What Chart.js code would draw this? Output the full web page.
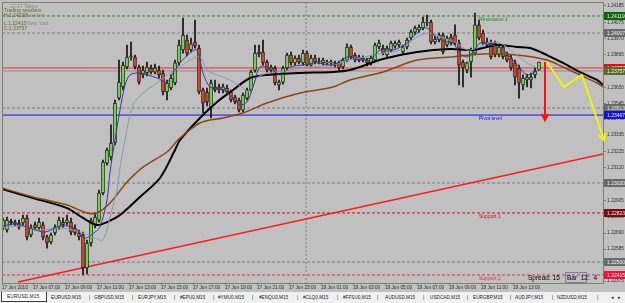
<!DOCTYPE html>
<html>
<head>
<meta charset="utf-8">
<script src="https://cdn.jsdelivr.net/npm/chart.js@4.4.0/dist/chart.umd.min.js"></script>
<style>
html, body { margin: 0; padding: 0; background: #c0c0c0; width: 625px; height: 303px; overflow: hidden; }
#wrap { position: relative; width: 625px; height: 303px; }
#c { position: absolute; left: 0; top: 0; }
#tabs { position: absolute; left: 0; top: 292px; width: 625px; height: 11px; background: #f0f0f0;
        font: 4.7px "Liberation Sans", Arial, sans-serif; color: #202020; }
#tabs span { position: absolute; top: 3px; white-space: nowrap; }
#tabs .act { top: 0; height: 9px; line-height: 9px; background: #fff; border: 1px solid #404040; border-top: none;
             padding-left: 5px; font-size: 5px; }
</style>
</head>
<body>
<div id="wrap">
<canvas id="c" width="625" height="292"></canvas>
<div id="tabs">
  <span class="act" style="left:1px;width:39px">EURUSD,M15</span>
  <span style="left:51px">EURUSD,M15</span><span style="left:89px">|</span>
  <span style="left:94px">GBPUSD,M15</span><span style="left:132px">|</span>
  <span style="left:138px">EURJPY,M15</span><span style="left:174px">|</span>
  <span style="left:180px">#EPU0,M15</span><span style="left:213px">|</span>
  <span style="left:218px">#YMU0,M15</span><span style="left:252px">|</span>
  <span style="left:259px">#ENQU0,M15</span><span style="left:297px">|</span>
  <span style="left:303px">#CLQ0,M15</span><span style="left:337px">|</span>
  <span style="left:343px">#FFSU0,M15</span><span style="left:377px">|</span>
  <span style="left:385px">AUDUSD,M15</span><span style="left:423px">|</span>
  <span style="left:430px">USDCAD,M15</span><span style="left:467px">|</span>
  <span style="left:473px">EURGBP,M15</span><span style="left:510px">|</span>
  <span style="left:515px">AUDJPY,M15</span><span style="left:552px">|</span>
  <span style="left:557px">NZDUSD,M15</span><span style="left:597px">|</span>
  <span style="left:611px">&#9666;</span><span style="left:618px">&#9656;</span>
</div>
</div>
<script>
// EURUSD M15, one entry per bar (bar 0 = 17 Jun 2010 05:15)
const opens = [
1.22724,1.22711,1.22770,1.22763,1.22757,1.22757,1.22790,1.22678,1.22744,1.22724,
1.22744,1.22665,1.22632,1.22691,1.22730,1.22763,1.22757,1.22763,1.22724,1.22691,
1.22678,1.22461,1.22625,1.22744,1.22776,1.22954,1.23151,1.23191,1.23283,1.23579,
1.23652,1.23783,1.23856,1.23849,1.23783,1.23731,1.23744,1.23777,1.23750,1.23763,
1.23744,1.23619,1.23645,1.23678,1.23810,1.23895,1.23961,1.23895,1.23948,1.23908,
1.23632,1.23619,1.23520,1.23652,1.23652,1.23632,1.23645,1.23619,1.23586,1.23566,
1.23500,1.23579,1.23632,1.23763,1.23882,1.23882,1.23816,1.23763,1.23777,1.23665,
1.23684,1.23777,1.23862,1.23810,1.23842,1.23810,1.23875,1.23796,1.23842,1.23823,
1.23810,1.23810,1.23810,1.23810,1.23810,1.23783,1.23829,1.23915,1.23862,1.23849,
1.23829,1.23829,1.23810,1.23829,1.23915,1.23908,1.23862,1.23895,1.23921,1.23928,
1.23882,1.23915,1.23974,1.24013,1.24027,1.24040,1.24073,1.24079,1.23948,1.23961,
1.23994,1.23928,1.23981,1.23994,1.23941,1.23816,1.23763,1.23816,1.23875,1.24060,
1.24007,1.23928,1.23941,1.23941,1.23862,1.23915,1.23862,1.23842,1.23810,1.23777,
1.23665,1.23698,1.23698,1.23731,1.23763];
const highs = [
1.22790,1.22796,1.22783,1.22776,1.22776,1.22809,1.22809,1.22744,1.22763,1.22790,
1.22763,1.22678,1.22691,1.22744,1.22796,1.22790,1.22809,1.22790,1.22744,1.22711,
1.22697,1.22645,1.22790,1.22823,1.22974,1.23171,1.23250,1.23402,1.23566,1.23829,
1.23816,1.23928,1.23948,1.23862,1.23796,1.23790,1.23816,1.23796,1.23803,1.23790,
1.23763,1.23698,1.23731,1.23829,1.23961,1.24106,1.23994,1.23974,1.24092,1.23928,
1.23645,1.23645,1.23698,1.23698,1.23671,1.23671,1.23665,1.23632,1.23599,1.23579,
1.23612,1.23645,1.23763,1.23928,1.23928,1.23961,1.23829,1.23796,1.23790,1.23698,
1.23790,1.23875,1.23882,1.23856,1.23862,1.23895,1.23888,1.23862,1.23862,1.23842,
1.23842,1.23829,1.23829,1.23823,1.23823,1.23842,1.23935,1.23928,1.23875,1.23862,
1.23856,1.23842,1.23856,1.23941,1.23961,1.23928,1.23921,1.23954,1.23954,1.23961,
1.23928,1.23974,1.24027,1.24053,1.24060,1.24112,1.24125,1.24092,1.23987,1.24007,
1.24007,1.23987,1.24000,1.24060,1.23961,1.23829,1.23816,1.23908,1.24138,1.24092,
1.24027,1.23974,1.23961,1.23954,1.23935,1.23928,1.23882,1.23862,1.23829,1.23796,
1.23731,1.23737,1.23744,1.23777,1.23816];
const lows = [
1.22711,1.22697,1.22744,1.22737,1.22717,1.22744,1.22645,1.22665,1.22711,1.22711,
1.22645,1.22592,1.22619,1.22678,1.22717,1.22730,1.22744,1.22678,1.22678,1.22645,
1.22415,1.22421,1.22605,1.22724,1.22763,1.22941,1.23138,1.23171,1.23270,1.23566,
1.23632,1.23770,1.23829,1.23770,1.23671,1.23711,1.23724,1.23737,1.23737,1.23711,
1.23599,1.23566,1.23632,1.23665,1.23796,1.23875,1.23856,1.23882,1.23908,1.23606,
1.23481,1.23527,1.23448,1.23619,1.23612,1.23612,1.23599,1.23553,1.23540,1.23487,
1.23487,1.23566,1.23619,1.23750,1.23849,1.23796,1.23750,1.23744,1.23665,1.23632,
1.23671,1.23763,1.23796,1.23796,1.23803,1.23796,1.23790,1.23783,1.23803,1.23803,
1.23796,1.23796,1.23790,1.23783,1.23763,1.23770,1.23816,1.23836,1.23816,1.23816,
1.23816,1.23790,1.23796,1.23816,1.23902,1.23862,1.23849,1.23882,1.23908,1.23915,
1.23869,1.23902,1.23961,1.24000,1.24013,1.24027,1.24053,1.23935,1.23935,1.23948,
1.23869,1.23915,1.23928,1.23928,1.23665,1.23652,1.23744,1.23717,1.23862,1.23961,
1.23928,1.23915,1.23836,1.23849,1.23849,1.23836,1.23816,1.23763,1.23665,1.23579,
1.23632,1.23652,1.23645,1.23711,1.23763];
const closes = [
1.22776,1.22776,1.22757,1.22750,1.22730,1.22790,1.22665,1.22724,1.22724,1.22763,
1.22665,1.22625,1.22678,1.22730,1.22776,1.22744,1.22776,1.22697,1.22691,1.22665,
1.22461,1.22625,1.22776,1.22796,1.22954,1.23158,1.23237,1.23283,1.23546,1.23684,
1.23796,1.23849,1.23849,1.23783,1.23684,1.23763,1.23783,1.23750,1.23777,1.23731,
1.23619,1.23678,1.23711,1.23810,1.23928,1.23994,1.23875,1.23935,1.23921,1.23619,
1.23546,1.23553,1.23678,1.23632,1.23632,1.23652,1.23619,1.23566,1.23553,1.23500,
1.23599,1.23632,1.23750,1.23875,1.23869,1.23810,1.23763,1.23783,1.23678,1.23684,
1.23777,1.23862,1.23810,1.23842,1.23816,1.23875,1.23796,1.23842,1.23816,1.23816,
1.23829,1.23810,1.23816,1.23796,1.23777,1.23829,1.23915,1.23849,1.23829,1.23829,
1.23842,1.23810,1.23842,1.23928,1.23941,1.23875,1.23908,1.23941,1.23941,1.23948,
1.23915,1.23961,1.24013,1.24040,1.24046,1.24079,1.24073,1.23948,1.23967,1.23994,
1.23882,1.23974,1.23941,1.23941,1.23796,1.23777,1.23810,1.23895,1.24060,1.23974,
1.23941,1.23948,1.23849,1.23862,1.23915,1.23849,1.23829,1.23777,1.23717,1.23678,
1.23711,1.23717,1.23717,1.23757,1.23816];

// moving averages: [bar, price]
const maFast = [[-0.25,1.22737],[3,1.22750],[6.75,1.22724],[10.5,1.22697],[14.25,1.22737],[18,1.22724],
  [20.5,1.22658],[23,1.22697],[24.25,1.22730],[26,1.22908],[26.75,1.23092],[28,1.23303],[29.25,1.23500],
  [30.5,1.23665],[31.75,1.23731],[34.25,1.23744],[38.5,1.23711],[41,1.23684],[42.5,1.23744],[44.25,1.23810],
  [46.75,1.23875],[48.5,1.23895],[50,1.23744],[51.75,1.23652],[55,1.23632],[57.5,1.23579],[59.25,1.23533],
  [61,1.23553],[62.5,1.23652],[64.25,1.23783],[66.75,1.23777],[69.25,1.23731],[71.75,1.23783],[75,1.23796],
  [78.5,1.23810],[82.5,1.23796],[86,1.23849],[89.25,1.23829],[92.5,1.23849],[94.25,1.23895],[97.5,1.23895],
  [101,1.23941],[104.25,1.24027],[106,1.24040],[108.5,1.23974],[111,1.23948],[112.5,1.23941],[114.25,1.23875],
  [116,1.23849],[117.5,1.23882],[119.25,1.23941],[121.75,1.23928],[124.25,1.23915],[126.75,1.23849],
  [129.25,1.23777],[131,1.23731],[133,1.23750]];
const maSlow = [[-0.25,1.22724],[4.25,1.22737],[9.25,1.22711],[14.25,1.22724],[19.25,1.22697],[23,1.22658],
  [25,1.22645],[26.75,1.22796],[28.5,1.22974],[29.25,1.23119],[30.5,1.23303],[32.5,1.23533],[35,1.23612],
  [38.5,1.23678],[41.75,1.23744],[44.25,1.23783],[46.75,1.23829],[49.25,1.23849],[51,1.23763],[53.5,1.23731],
  [56.75,1.23698],[60,1.23645],[61.75,1.23619],[63.5,1.23711],[66,1.23744],[68.5,1.23750],[71.75,1.23763],
  [76,1.23783],[82.5,1.23796],[86.75,1.23829],[95,1.23875],[99.25,1.23895],[103.5,1.23981],[106.75,1.24007],
  [110,1.23974],[113.5,1.23941],[116,1.23895],[118.5,1.23908],[121,1.23941],[124.25,1.23941],[127.5,1.23882],
  [131,1.23810],[133.5,1.23777]];
const maBlack = [[-0.25,1.22980],[7.5,1.22921],[16,1.22855],[20,1.22790],[23.5,1.22744],[26,1.22763],
  [29.25,1.22809],[34.25,1.22928],[39.25,1.23053],[43,1.23237],[44.25,1.23303],[49.25,1.23448],[53.5,1.23553],
  [57.5,1.23632],[61.75,1.23711],[66,1.23731],[74.25,1.23744],[82.5,1.23750],[86.75,1.23763],[95,1.23836],
  [103.5,1.23882],[111.75,1.23902],[117.5,1.23895],[123.5,1.23928],[128.5,1.23915],[131.75,1.23908],
  [136,1.23862],[140,1.23810],[144.25,1.23750],[148.5,1.23698],[150,1.23665]];
const maBrown = [[-0.25,1.22987],[7.5,1.22928],[16,1.22875],[21,1.22823],[23.5,1.22823],[26.75,1.22888],
  [31,1.23026],[35,1.23125],[41,1.23224],[44.25,1.23316],[49.25,1.23415],[55,1.23448],[60,1.23481],
  [66,1.23546],[74.25,1.23612],[82.5,1.23652],[86.75,1.23698],[95,1.23750],[103.5,1.23829],[111.75,1.23849],
  [120,1.23869],[128.5,1.23862],[136,1.23829],[140,1.23783],[144.25,1.23731],[148.5,1.23678],[150,1.23652]];

// drawn objects
const trendLine = [[3.75,1.22368],[150,1.23211]];
const redArrow = [[135.5,1.23816],[135.5,1.23434]];
const yellowPath = [[136,1.23816],[140.25,1.23652],[144.75,1.23731],[150.25,1.23303]];
const daySeparator = 75.75;

// horizontal levels
const levelNames  = ['Resistance 1', '', '', '', '', 'Pivot level', '', 'Support 1', '', 'Support 2'];
const levelPrices = [1.24119, 1.24007, 1.23777, 1.23757, 1.23513, 1.23467, 1.23020, 1.22823, 1.22500, 1.22415];
const levelColors = ['#1e8c1e', '#7c7c7c', '#ff2a2a', '#8e8e8e', '#7c7c7c', '#1010e8', '#7c7c7c', '#b81818', '#7c7c7c', '#f0285a'];
const levelDashed = [true, true, false, false, true, false, true, true, true, true];
const boxColors   = ['#0b650b', '#6a6a6a', '#e01010', '#5a6b28', '#6a6a6a', '#1010e0', '#6a6a6a', '#7a0a0a', '#6a6a6a', '#f01038'];

// axes
const priceTicks = [1.24185, 1.24075, 1.23970, 1.23865, 1.23760, 1.23650, 1.23545, 1.23440, 1.23335,
  1.23225, 1.23120, 1.23010, 1.22905, 1.22800, 1.22690, 1.22585, 1.22480, 1.22375];
const timeTicks = [-0.25, 7.5, 15.5, 23.5, 31.5, 39.5, 47.5, 55.5, 63.5, 71.5, 79.5, 87.5, 95.5, 103.5, 111.5, 119.5, 127.5];
const timeLabels = ['17 Jun 2010', '17 Jun 07:00', '17 Jun 09:00', '17 Jun 11:00', '17 Jun 13:00', '17 Jun 15:00',
  '17 Jun 17:00', '17 Jun 19:00', '17 Jun 21:00', '17 Jun 23:00', '18 Jun 01:00', '18 Jun 03:00', '18 Jun 05:00',
  '18 Jun 07:00', '18 Jun 09:00', '18 Jun 11:00', '18 Jun 13:00'];

const frameColor = '#7c8266';
const xy = arr => arr.map(p => ({ x: p[0], y: p[1] }));

Chart.defaults.font.family = '"Liberation Sans", Arial, sans-serif';

const datasets = [];
datasets.push({ type: 'line', data: xy(yellowPath), borderColor: '#f5f500', borderWidth: 2, pointRadius: 0,
  tension: 0, clip: 10, arrow: true, order: 0 });
datasets.push({ type: 'line', data: xy(redArrow), borderColor: '#ff1010', borderWidth: 2, pointRadius: 0,
  tension: 0, arrow: true, order: 0 });
datasets.push({ type: 'line', data: xy(maFast), borderColor: '#3a3a9a', borderWidth: 1, pointRadius: 0, tension: 0.3, order: 1 });
datasets.push({ type: 'line', data: xy(maSlow), borderColor: '#8a98b0', borderWidth: 1, pointRadius: 0, tension: 0.3, order: 1 });
datasets.push({ type: 'line', data: xy(maBrown), borderColor: '#8b4513', borderWidth: 1.5, pointRadius: 0, tension: 0.3, order: 1 });
datasets.push({ type: 'line', data: xy(maBlack), borderColor: '#000000', borderWidth: 2, pointRadius: 0, tension: 0.3, order: 1 });
datasets.push({ type: 'bar', data: opens.map((o, i) => ({ x: i, y: [o, closes[i]] })),
  backgroundColor: opens.map((o, i) => closes[i] >= o ? '#7cfc50' : '#ff4a1c'),
  borderColor: '#1a1a1a', borderWidth: 1, borderSkipped: false, barThickness: 3, minBarLength: 1, grouped: false, order: 2 });
datasets.push({ type: 'bar', data: lows.map((l, i) => ({ x: i, y: [l, highs[i]] })),
  backgroundColor: '#101010', barThickness: 1, grouped: false, order: 3 });
datasets.push({ type: 'line', data: xy(trendLine), borderColor: '#ff1a1a', borderWidth: 1.5, pointRadius: 0, tension: 0, order: 4 });
levelPrices.forEach((p, i) => {
  datasets.push({ type: 'line', data: [{ x: -0.25, y: p }, { x: 150, y: p }], borderColor: levelColors[i],
    borderWidth: 1, borderDash: levelDashed[i] ? [3, 2] : [], pointRadius: 0, order: 5 });
});
datasets.push({ type: 'line', data: [{ x: daySeparator, y: 1.24211 }, { x: daySeparator, y: 1.22362 }],
  borderColor: '#7a7a7a', borderWidth: 1, borderDash: [2, 2], pointRadius: 0, order: 6 });

const arrowHeads = {
  id: 'arrowHeads',
  afterDatasetsDraw(chart) {
    const ctx = chart.ctx;
    chart.data.datasets.forEach((ds, i) => {
      if (!ds.arrow) return;
      const pts = chart.getDatasetMeta(i).data;
      const a = pts[pts.length - 2], b = pts[pts.length - 1];
      const ang = Math.atan2(b.y - a.y, b.x - a.x);
      ctx.save();
      ctx.strokeStyle = ds.borderColor;
      ctx.lineWidth = ds.borderWidth;
      ctx.beginPath();
      ctx.moveTo(b.x - 7 * Math.cos(ang - 0.5), b.y - 7 * Math.sin(ang - 0.5));
      ctx.lineTo(b.x, b.y);
      ctx.lineTo(b.x - 7 * Math.cos(ang + 0.5), b.y - 7 * Math.sin(ang + 0.5));
      ctx.stroke();
      ctx.restore();
    });
  }
};

const overlay = {
  id: 'overlay',
  afterDraw(chart) {
    const { ctx, chartArea: a, scales: { x, y } } = chart;
    ctx.save();
    // frame left and top
    ctx.strokeStyle = frameColor;
    ctx.lineWidth = 1;
    ctx.beginPath();
    ctx.moveTo(a.left + 0.5, a.bottom);
    ctx.lineTo(a.left + 0.5, a.top + 0.5);
    ctx.lineTo(a.right, a.top + 0.5);
    ctx.stroke();

    // level names
    ctx.font = '5px "Liberation Sans", Arial, sans-serif';
    ctx.textBaseline = 'top';
    const lx = x.getPixelForValue(119);
    levelNames.forEach((n, i) => {
      if (!n) return;
      ctx.fillStyle = levelColors[i];
      ctx.fillText(n, lx, y.getPixelForValue(levelPrices[i]) + 1.5);
    });

    // price boxes on the axis
    ctx.textBaseline = 'middle';
    levelPrices.forEach((p, i) => {
      const py = Math.round(y.getPixelForValue(p));
      ctx.fillStyle = boxColors[i];
      ctx.fillRect(a.right + 1, py - 4, 24, 8);
      ctx.fillStyle = '#f4f4f4';
      ctx.fillText(p.toFixed(5), a.right + 4, py + 0.5);
    });

    // session info, top left
    ctx.textBaseline = 'middle';
    ctx.fillStyle = '#858585';
    ctx.fillText('22:17 Tokyo:', 10, 7);
    ctx.fillText('London:', 27, 16);
    ctx.fillText('New York:', 27, 24);
    ctx.fillStyle = '#5e6a22';
    ctx.fillText('Trading sessions', 4, 11);
    ctx.fillText('H:1.24138', 4, 16);
    ctx.fillText('L:1.22415', 4, 24);
    ctx.fillText('C:1.23757', 4, 29);

    // spread / bar info
    ctx.font = '6.5px "Liberation Sans", Arial, sans-serif';
    ctx.fillStyle = '#000';
    ctx.fillText('Spread: 15', 528, 278);
    ctx.strokeStyle = '#7a7ab8';
    ctx.strokeRect(565.5, 272.5, 21, 10);
    ctx.fillText('Bar  12', 567, 278);
    ctx.fillText(':  4', 588, 278);
    ctx.restore();
  }
};

new Chart(document.getElementById('c'), {
  type: 'bar',
  data: { datasets },
  options: {
    responsive: false,
    animation: false,
    events: [],
    layout: { padding: { left: 2, top: 2, right: 0, bottom: 0 } },
    plugins: { legend: { display: false }, tooltip: { enabled: false } },
    scales: {
      x: {
        type: 'linear', min: -0.25, max: 150, offset: false,
        grid: { display: true, drawOnChartArea: false, tickLength: 2, color: frameColor, offset: false },
        border: { display: true, color: frameColor },
        ticks: { autoSkip: false, align: 'start', maxRotation: 0, padding: 0, color: '#2e2e2e',
                 font: { size: 4.7 }, callback: (v, i) => timeLabels[i] },
        afterBuildTicks: s => { s.ticks = timeTicks.map(v => ({ value: v })); },
        afterFit: s => { s.height = 9; s.paddingLeft = 0; s.paddingRight = 0; }
      },
      y: {
        type: 'linear', position: 'right', min: 1.22362, max: 1.24211,
        grid: { display: true, drawOnChartArea: false, tickLength: 3, color: frameColor },
        border: { display: true, color: frameColor },
        ticks: { padding: 1, color: '#2e2e2e', font: { size: 4.7 }, callback: v => v.toFixed(5) },
        afterBuildTicks: s => { s.ticks = priceTicks.map(v => ({ value: v })); },
        afterFit: s => { s.width = 22; s.paddingTop = 0; s.paddingBottom = 0; }
      }
    }
  },
  plugins: [arrowHeads, overlay]
});
</script>
</body>
</html>
